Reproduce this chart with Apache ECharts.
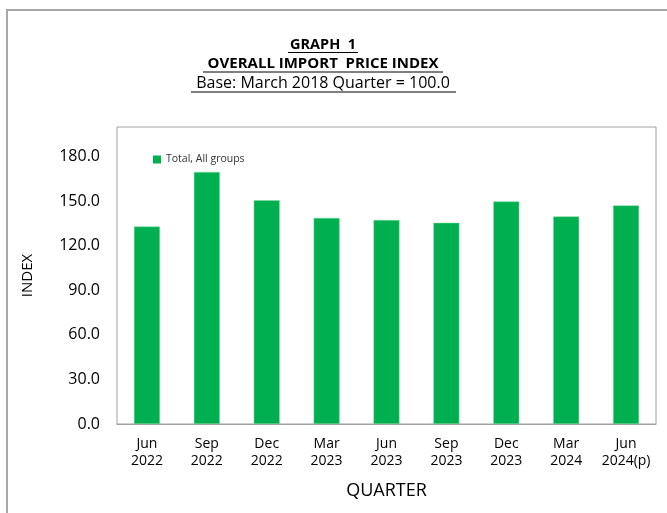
<!DOCTYPE html>
<html><head><meta charset="utf-8">
<script src="https://cdn.jsdelivr.net/npm/echarts@6/dist/echarts.min.js"></script>
<style>html,body{margin:0;padding:0;background:#fff}#c{width:667px;height:513px}</style>
</head><body><div id="c"></div>
<script>
const categories = ['Jun\n2022','Sep\n2022','Dec\n2022','Mar\n2023','Jun\n2023','Sep\n2023','Dec\n2023','Mar\n2024','Jun\n2024(p)'];
const totalAllGroups = [133.0, 169.7, 150.7, 138.8, 137.3, 135.5, 149.9, 139.8, 147.2];
const seriesName = 'Total, All groups';
const titleLines = ['GRAPH  1', 'OVERALL IMPORT  PRICE INDEX', 'Base: March 2018 Quarter = 100.0'];

const FONT = 'Open Sans';
const chart = echarts.init(document.getElementById('c'), null, {renderer:'canvas'});
chart.setOption({
  animation:false,
  textStyle:{fontFamily:FONT},
  graphic:[
    {type:'polyline', shape:{points:[[7,520],[7,10],[680,10]]}, style:{stroke:'#a6a6a6', lineWidth:2, fill:null}},
    {type:'text', x:323, y:45, style:{text:titleLines[0], font:'bold 14.5px "Open Sans"', fill:'#000', textAlign:'center', textVerticalAlign:'middle'}},
    {type:'line', shape:{x1:288,y1:52.5,x2:358,y2:52.5}, style:{stroke:'#000', lineWidth:1}},
    {type:'text', x:323, y:64, style:{text:titleLines[1], font:'bold 15px "Open Sans"', fill:'#000', textAlign:'center', textVerticalAlign:'middle'}},
    {type:'line', shape:{x1:203,y1:72,x2:443,y2:72}, style:{stroke:'#000', lineWidth:1}},
    {type:'text', x:323, y:83, style:{text:titleLines[2], font:'16px "Open Sans"', fill:'#000', textAlign:'center', textVerticalAlign:'middle'}},
    {type:'line', shape:{x1:191,y1:92,x2:456,y2:92}, style:{stroke:'#000', lineWidth:1}}
  ],
  legend:{
    data:[seriesName], left:148, top:149, icon:'rect', itemWidth:8, itemHeight:8, itemGap:8,
    itemStyle:{borderWidth:0},
    textStyle:{fontSize:10.5, color:'#333', fontFamily:FONT}
  },
  grid:{left:117, right:11, top:127, bottom:89, show:true, borderColor:'#a0a0a0', borderWidth:1, backgroundColor:'#fff'},
  xAxis:{
    type:'category', data:categories,
    name:'QUARTER', nameLocation:'middle', nameGap:58,
    nameTextStyle:{fontSize:18, color:'#000', fontFamily:FONT},
    axisLine:{show:true, lineStyle:{color:'#a0a0a0'}},
    axisTick:{show:false},
    axisLabel:{fontSize:14, color:'#000', lineHeight:17, margin:12, interval:0, fontFamily:FONT}
  },
  yAxis:{
    type:'value', min:0, max:200, interval:30,
    name:'INDEX', nameLocation:'middle', nameGap:82, nameRotate:90,
    nameTextStyle:{fontSize:15, color:'#000', fontFamily:FONT},
    axisLine:{show:false}, axisTick:{show:false}, splitLine:{show:false},
    axisLabel:{fontSize:16, color:'#000', margin:17, showMaxLabel:false, formatter:v=>v.toFixed(1), fontFamily:FONT}
  },
  series:[{
    name:seriesName, type:'bar', data:totalAllGroups, barWidth:26,
    itemStyle:{color:'#00b050', borderColor:'#7fdc9f', borderWidth:0.5}
  }]
});
</script></body></html>
